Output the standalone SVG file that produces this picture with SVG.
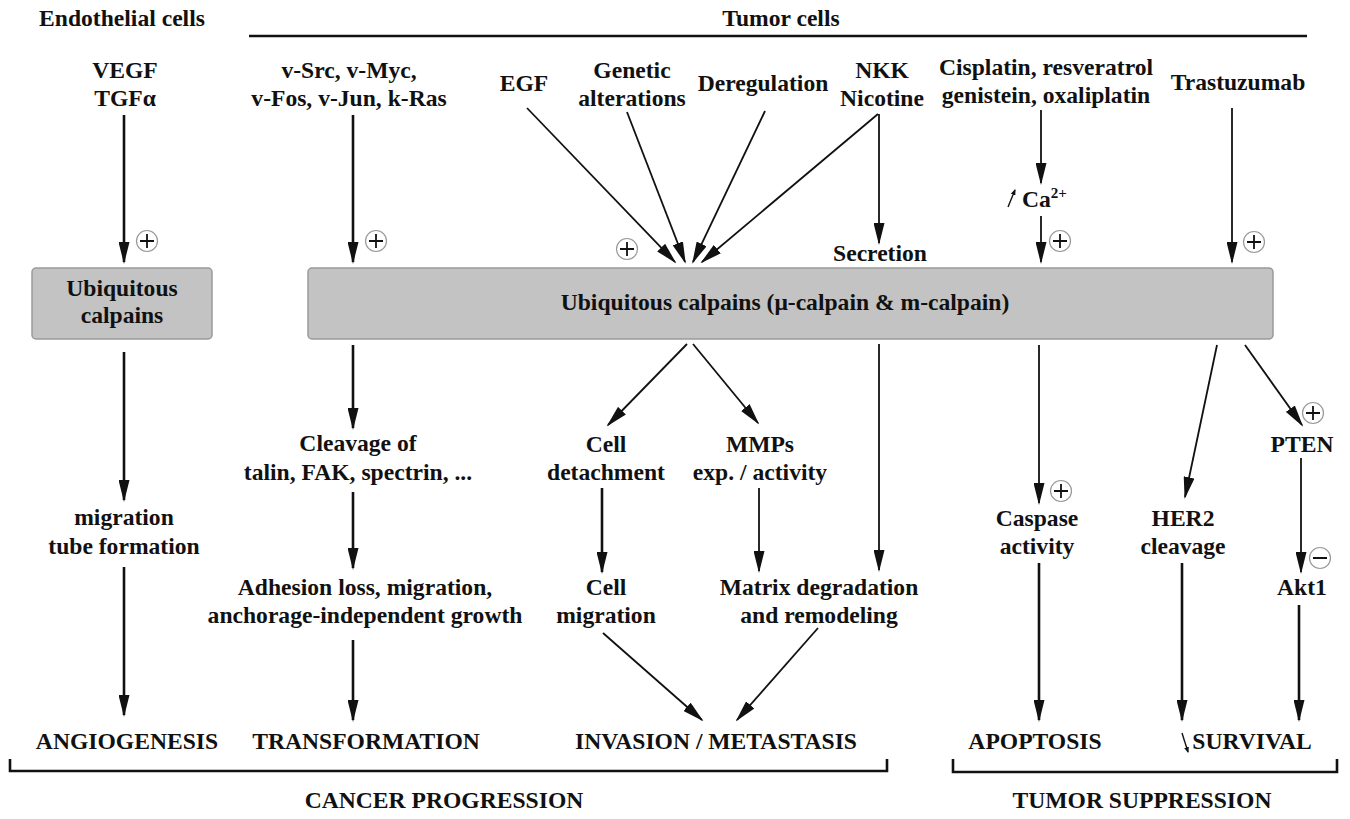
<svg xmlns="http://www.w3.org/2000/svg" xmlns:xlink="http://www.w3.org/1999/xlink" width="1350" height="819" viewBox="0 0 1350 819">
<style>
text{font-family:"Liberation Serif","Times New Roman",serif;font-weight:bold;font-size:23.6px;fill:#111;text-anchor:middle}
.box{fill:#c3c3c3;stroke:#9a9a9a;stroke-width:1.5}
.thick{stroke:#111;stroke-width:2.6;fill:none;marker-end:url(#ah)}
.thin{stroke:#111;stroke-width:1.8;fill:none;marker-end:url(#ah)}
.tiny{stroke:#111;stroke-width:1.4;fill:none;marker-end:url(#sah)}
.brk{stroke:#111;stroke-width:2.6;fill:none}
</style>
<defs>
<marker id="ah" markerUnits="userSpaceOnUse" markerWidth="22" markerHeight="11" refX="20" refY="5.5" orient="auto">
<path d="M0,0 L22,5.5 L0,11 Z" fill="#111"/>
</marker>
<marker id="sah" markerUnits="userSpaceOnUse" markerWidth="6" markerHeight="5" refX="5" refY="2.5" orient="auto">
<path d="M0,0 L6,2.5 L0,5 Z" fill="#111"/>
</marker>
<g id="plus"><circle r="10.5" fill="#fff" stroke="#999" stroke-width="1.2"/><path d="M-7,0 H7 M0,-7 V7" stroke="#111" stroke-width="1.8"/></g>
<g id="minus"><circle r="10.5" fill="#fff" stroke="#999" stroke-width="1.2"/><path d="M-7,0 H7" stroke="#111" stroke-width="2"/></g>
</defs>
<rect width="1350" height="819" fill="#fff"/>

<g id="headers">
<text x="122" y="26">Endothelial cells</text>
<text x="781" y="26">Tumor cells</text>
<path d="M249,36 H1307" class="brk" stroke-width="3"/>
</g>

<g id="n-vegf"><text x="125" y="78">VEGF</text><text x="125" y="106">TGFα</text></g>
<g id="n-onco"><text x="349" y="78">v-Src, v-Myc,</text><text x="349" y="106">v-Fos, v-Jun, k-Ras</text></g>
<g id="n-egf"><text x="524" y="91">EGF</text></g>
<g id="n-genetic"><text x="632" y="78">Genetic</text><text x="632" y="106">alterations</text></g>
<g id="n-dereg"><text x="763" y="91">Deregulation</text></g>
<g id="n-nkk"><text x="882" y="78">NKK</text><text x="882" y="106">Nicotine</text></g>
<g id="n-cis"><text x="1046" y="75">Cisplatin, resveratrol</text><text x="1046" y="103">genistein, oxaliplatin</text></g>
<g id="n-tras"><text x="1238" y="90">Trastuzumab</text></g>
<g id="n-ca"><text x="1022" y="207" style="text-anchor:start">Ca<tspan font-size="15" dy="-9">2+</tspan></text></g>
<g id="n-secretion"><text x="880" y="261">Secretion</text></g>

<g id="n-ubi-endo"><rect class="box" x="32" y="268" width="180" height="71" rx="4"/><text x="122" y="296">Ubiquitous</text><text x="122" y="323">calpains</text></g>
<g id="n-ubi-tumor"><rect class="box" x="308" y="268" width="965" height="71" rx="4"/><text x="785" y="310">Ubiquitous calpains (μ-calpain &amp; m-calpain)</text></g>

<g id="n-migtube"><text x="124" y="525">migration</text><text x="124" y="554">tube formation</text></g>
<g id="n-cleavage"><text x="358" y="451">Cleavage of</text><text x="358" y="480">talin, FAK, spectrin, ...</text></g>
<g id="n-adhesion"><text x="365" y="595">Adhesion loss, migration,</text><text x="365" y="623">anchorage-independent growth</text></g>
<g id="n-detach"><text x="606" y="452">Cell</text><text x="606" y="480">detachment</text></g>
<g id="n-mmps"><text x="760" y="452">MMPs</text><text x="760" y="480">exp. / activity</text></g>
<g id="n-cellmig"><text x="606" y="595">Cell</text><text x="606" y="623">migration</text></g>
<g id="n-matrix"><text x="819" y="595">Matrix degradation</text><text x="819" y="623">and remodeling</text></g>
<g id="n-caspase"><text x="1037" y="526">Caspase</text><text x="1037" y="554">activity</text></g>
<g id="n-her2"><text x="1183" y="526">HER2</text><text x="1183" y="554">cleavage</text></g>
<g id="n-pten"><text x="1302" y="452">PTEN</text></g>
<g id="n-akt1"><text x="1302" y="595">Akt1</text></g>

<g id="n-angio"><text x="127" y="749">ANGIOGENESIS</text></g>
<g id="n-transf"><text x="366" y="749">TRANSFORMATION</text></g>
<g id="n-invasion"><text x="716" y="749">INVASION / METASTASIS</text></g>
<g id="n-apoptosis"><text x="1035" y="749">APOPTOSIS</text></g>
<g id="n-survival"><text x="1252" y="749">SURVIVAL</text></g>

<g id="brackets">
<path class="brk" d="M10,759 V771 H887 V759"/>
<path class="brk" d="M953,759 V772 H1337 V759"/>
<text x="444" y="808">CANCER PROGRESSION</text>
<text x="1142" y="808">TUMOR SUPPRESSION</text>
</g>

<g id="connectors">
<path class="thick" d="M124,115 V262"/>
<path class="thick" d="M353,115 V262"/>
<path class="thick" d="M124,352 V500"/>
<path class="thick" d="M124,567 V715"/>
<path class="thick" d="M353,345 V428"/>
<path class="thick" d="M353,492 V568"/>
<path class="thick" d="M353,640 V720"/>
<path class="thick" d="M602,488 V572"/>
<path class="thick" d="M1039,563 V720"/>
<path class="thick" d="M1182,563 V720"/>
<path class="thick" d="M1299,605 V720"/>
<path class="thin" d="M527,108 L675,262"/>
<path class="thin" d="M627,112 L685,262"/>
<path class="thin" d="M765,111 L693,262"/>
<path class="thin" d="M878,114 L702,262"/>
<path class="thin" d="M879,114 V243"/>
<path class="thin" d="M1041,110 V183"/>
<path class="thin" d="M1041,216 V262"/>
<path class="thin" d="M1232,108 V262"/>
<path class="thin" d="M687,344 L608,425"/>
<path class="thin" d="M693,344 L758,423"/>
<path class="thin" d="M879,344 V570"/>
<path class="thin" d="M759,488 V571"/>
<path class="thin" d="M603,633 L702,720"/>
<path class="thin" d="M818,628 L737,720"/>
<path class="thin" d="M1039,345 V503"/>
<path class="thin" d="M1217,345 L1185,497"/>
<path class="thin" d="M1245,345 L1302,425"/>
<path class="thin" d="M1301,458 V572"/>
<path class="tiny" d="M1008,207 L1015,190"/>
<path class="tiny" d="M1182,733 L1188,752"/>
</g>

<g id="signs">
<use xlink:href="#plus" x="147" y="241"/>
<use xlink:href="#plus" x="376" y="241"/>
<use xlink:href="#plus" x="627" y="249"/>
<use xlink:href="#plus" x="1060" y="241"/>
<use xlink:href="#plus" x="1254" y="242"/>
<use xlink:href="#plus" x="1061" y="491"/>
<use xlink:href="#plus" x="1313" y="413"/>
<use xlink:href="#minus" x="1320" y="558"/>
</g>
</svg>
